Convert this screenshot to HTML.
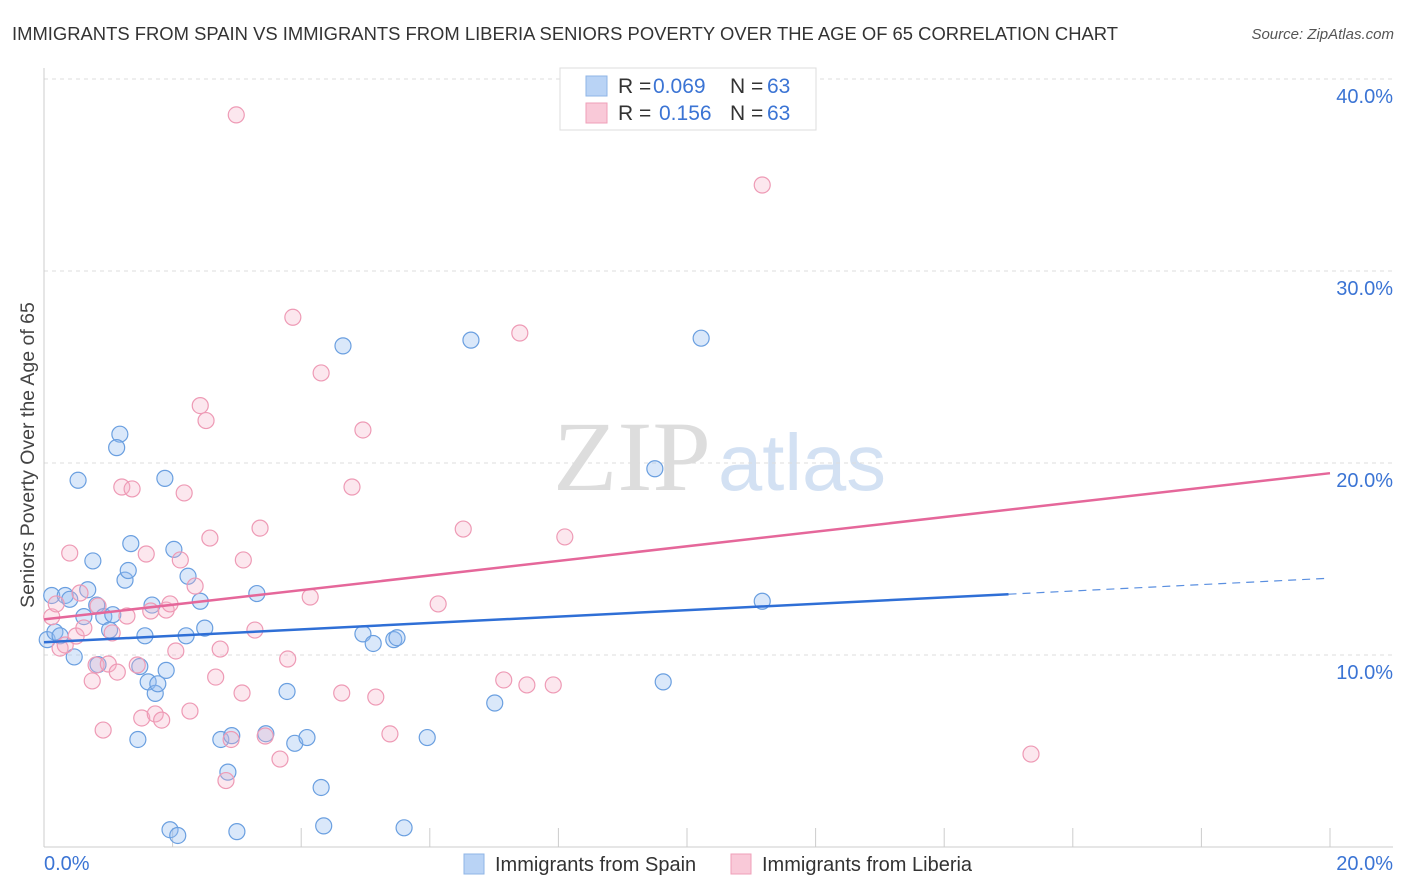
<!DOCTYPE html>
<html><head><meta charset="utf-8">
<style>
body{margin:0;background:#fff;font-family:"Liberation Sans",sans-serif;}
#wrap{position:relative;width:1406px;height:892px;overflow:hidden;}
</style></head>
<body>
<div id="wrap">
<svg id="svg" width="1406" height="892" xmlns="http://www.w3.org/2000/svg">
<text x="12" y="40" font-size="18" fill="#333" textLength="1106" lengthAdjust="spacingAndGlyphs">IMMIGRANTS FROM SPAIN VS IMMIGRANTS FROM LIBERIA SENIORS POVERTY OVER THE AGE OF 65 CORRELATION CHART</text>
<text x="1394" y="39" font-size="15" fill="#555" font-style="italic" text-anchor="end">Source: ZipAtlas.com</text>
<text transform="translate(34,455) rotate(-90)" font-size="19.5" fill="#444" text-anchor="middle">Seniors Poverty Over the Age of 65</text>
<g><text x="553" y="490" font-size="100" fill="#ddd" font-family="Liberation Serif,serif" textLength="158" lengthAdjust="spacingAndGlyphs">ZIP</text><text x="718" y="490" font-size="80" fill="#d3e1f3" textLength="168" lengthAdjust="spacingAndGlyphs">atlas</text></g>
<g id="grid"></g><g id="pts"></g><g id="lines"></g>
<g>
<rect x="560" y="68" width="256" height="62" fill="#fff" stroke="#ddd"/>
<rect x="586" y="76" width="21" height="20" fill="#b9d3f5" stroke="#8fb5e6"/>
<rect x="586" y="103" width="21" height="20" fill="#f9c9d8" stroke="#ef9fb8"/>
<text x="618" y="93" font-size="21" fill="#333">R = <tspan x="653" fill="#3b74d4">0.069</tspan><tspan x="730">N = </tspan><tspan x="767" fill="#3b74d4">63</tspan></text>
<text x="618" y="120" font-size="21" fill="#333">R = <tspan x="659" fill="#3b74d4">0.156</tspan><tspan x="730">N = </tspan><tspan x="767" fill="#3b74d4">63</tspan></text>
</g>
<g>
<rect x="464" y="854" width="20" height="20" fill="#b9d3f5" stroke="#8fb5e6"/>
<text x="495" y="871" font-size="20" fill="#333">Immigrants from Spain</text>
<rect x="731" y="854" width="20" height="20" fill="#f9c9d8" stroke="#ef9fb8"/>
<text x="762" y="871" font-size="20" fill="#333">Immigrants from Liberia</text>
</g>
</svg>
</div>
<script>
const yTicks=[10,20,30,40];
const yTickLabels=["10.0%","20.0%","30.0%","40.0%"];
const xTickLabels=["0.0%","20.0%"];
const spainX=[0.05,0.12,0.17,0.25,0.33,0.40,0.47,0.53,0.62,0.68,0.76,0.82,0.84,0.93,1.02,1.07,1.18,1.13,1.26,1.31,1.35,1.46,1.49,1.57,1.62,1.68,1.73,1.77,1.88,1.90,2.02,1.96,2.08,2.21,2.24,2.43,2.50,2.75,2.86,2.92,3.00,3.31,3.45,3.78,3.90,4.09,4.31,4.35,4.65,4.96,5.12,5.44,5.49,5.60,5.96,6.64,7.01,9.50,9.63,10.22,11.17];
const spainY=[10.8,13.1,11.2,11.0,13.1,12.9,9.9,19.1,12.0,13.4,14.9,12.6,9.5,12.0,11.3,12.1,21.5,20.8,13.9,14.4,15.8,5.6,9.4,11.0,8.6,12.6,8.0,8.5,19.2,9.2,15.5,0.9,0.6,11.0,14.1,12.8,11.4,5.6,3.9,5.8,0.8,13.2,5.9,8.1,5.4,5.7,3.1,1.1,26.1,11.1,10.6,10.8,10.9,1.0,5.7,26.4,7.5,19.7,8.6,26.5,12.8];
const liberiaX=[0.12,0.19,0.25,0.33,0.40,0.50,0.56,0.62,0.75,0.81,0.84,0.92,1.00,1.06,1.14,1.21,1.29,1.37,1.45,1.52,1.59,1.66,1.73,1.83,1.90,1.96,2.05,2.12,2.18,2.27,2.35,2.43,2.52,2.58,2.67,2.74,2.83,2.91,2.99,3.08,3.10,3.28,3.36,3.44,3.67,3.79,3.87,4.14,4.31,4.63,4.79,4.96,5.16,5.38,6.13,6.52,7.15,7.40,7.51,7.92,8.10,11.17,15.35];
const liberiaY=[11.99,12.66,10.36,10.52,15.31,10.99,13.23,11.41,8.65,9.48,12.55,6.09,9.53,11.15,9.11,18.75,12.03,18.65,9.48,6.72,15.26,12.29,6.93,6.61,12.34,12.66,10.21,14.95,18.44,7.08,13.59,22.99,22.21,16.09,8.85,10.31,3.46,5.60,38.13,8.02,14.95,11.30,16.61,5.78,4.58,9.79,27.59,13.02,24.69,8.02,18.75,21.72,7.81,5.89,12.66,16.56,8.70,26.77,8.44,8.44,16.15,34.48,4.84];
const X0=44,XS=64.3,Y0=847,YS=19.2;
const sx=v=>X0+v*XS, sy=v=>Y0-v*YS;
const NS="http://www.w3.org/2000/svg";
function mk(tag,attrs,parent){const e=document.createElementNS(NS,tag);for(const k in attrs)e.setAttribute(k,attrs[k]);parent.appendChild(e);return e;}
const grid=document.getElementById('grid');
yTicks.forEach((t,i)=>{
  const l=mk('line',{x1:44,x2:1393,y1:sy(t),y2:sy(t),stroke:'#ddd','stroke-dasharray':'4,4'},grid);
  
  
  const tx=mk('text',{x:1393,y:sy(t)+24,'font-size':20,fill:'#3b74d4','text-anchor':'end'},grid);
  tx.textContent=yTickLabels[i];
  
  
});
const ax=mk('line',{x1:44,x2:44,y1:68,y2:847,stroke:'#ccc'},grid);


const bx=mk('line',{x1:44,x2:1393,y1:847,y2:847,stroke:'#ccc'},grid);


for(let i=1;i<=10;i++){
  const t=mk('line',{x1:44+i*128.6,x2:44+i*128.6,y1:828,y2:847,stroke:'#ccc'},grid);
  
  
}
[[0,'start',44],[20,'end',1393]].forEach((d,i)=>{
  const t=mk('text',{x:d[2],y:870,'font-size':20,fill:'#3b74d4','text-anchor':d[1]},grid);
  t.textContent=xTickLabels[i];
  
  
});
const pts=document.getElementById('pts');
spainX.forEach((x,i)=>{
  const c=mk('circle',{cx:sx(x),cy:sy(spainY[i]),r:8,fill:'rgba(150,190,240,0.35)',stroke:'#6a9fe0','stroke-width':1.2},pts);
  
  
});
liberiaX.forEach((x,i)=>{
  const c=mk('circle',{cx:sx(x),cy:sy(liberiaY[i]),r:8,fill:'rgba(245,175,200,0.3)',stroke:'#ee9ab5','stroke-width':1.2},pts);
  
  
});
function fit(xs,ys){const n=xs.length,mx=xs.reduce((a,b)=>a+b)/n,my=ys.reduce((a,b)=>a+b)/n;let sxy=0,sxx=0;xs.forEach((x,i)=>{sxy+=(x-mx)*(ys[i]-my);sxx+=(x-mx)**2});const b=sxy/sxx;return [my-b*mx,b];}
const lines=document.getElementById('lines');
const fs=fit(spainX,spainY), fl=fit(liberiaX,liberiaY);
const xmaxS=15.0;
let l1=mk('line',{x1:sx(0),y1:sy(fs[0]),x2:sx(xmaxS),y2:sy(fs[0]+fs[1]*xmaxS),stroke:'#2f6fd6','stroke-width':2.5},lines);


let l2=mk('line',{x1:sx(xmaxS),y1:sy(fs[0]+fs[1]*xmaxS),x2:sx(20),y2:sy(fs[0]+fs[1]*20),stroke:'#5a8fe0','stroke-width':1.2,'stroke-dasharray':'8,6'},lines);


let l3=mk('line',{x1:sx(0),y1:sy(fl[0]),x2:sx(20),y2:sy(fl[0]+fl[1]*20),stroke:'#e5679a','stroke-width':2.5},lines);


</script>
</body></html>
